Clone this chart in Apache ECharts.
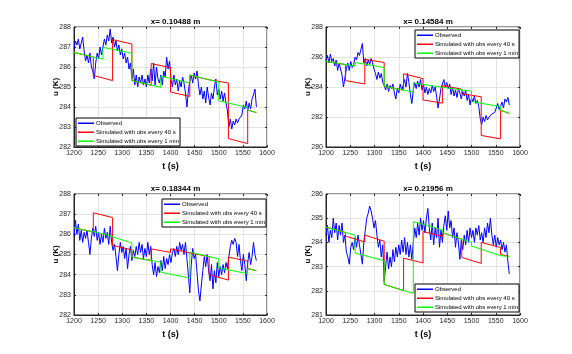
<!DOCTYPE html>
<html>
<head>
    <meta charset="utf-8" />
    <title>u_vs_t</title>
    <script src="https://cdn.jsdelivr.net/npm/echarts@6/dist/echarts.min.js"></script>
    <style>
        html, body { margin: 0; padding: 0; background: #fff; }
        #container { width: 572px; height: 354px; }
    </style>
</head>
<body>
    <div id="container"></div>
</body>
</html>
<script>
    // observed u every 3 s from t = 1200 s
    var obsStart = 1200, obsStep = 3;
    var obs1 = [286.9, 287.3, 287.1, 287.4, 286.9, 287.2, 287.5, 286.8, 286.3, 286.6, 286.2, 286.7, 286.0, 285.8, 285.4, 286.2, 286.7, 286.4, 287.0, 286.6,
        287.0, 287.4, 287.1, 287.6, 287.3, 287.9, 287.2, 287.5, 287.0, 287.3, 286.8, 287.1, 286.6, 286.9, 286.4, 286.7, 286.2, 286.5, 285.9, 286.2,
        285.4, 285.9, 285.1, 285.6, 285.0, 285.5, 285.2, 285.6, 285.1, 285.4, 285.0, 285.6, 285.2, 285.9, 285.3, 286.2, 285.1, 286.0, 285.4, 285.2,
        285.6, 285.1, 285.8, 285.5, 286.5, 285.9, 286.3, 285.4, 285.0, 285.6, 285.1, 285.4, 284.8, 285.3, 285.0, 285.5, 285.2, 284.7, 284.0, 284.8,
        285.3, 285.6, 285.2, 285.7, 285.4, 285.8, 285.1, 284.6, 285.0, 284.4, 284.8, 284.2, 285.0, 284.5, 284.1, 284.7, 284.4, 285.0, 285.4, 284.6,
        284.9, 284.4, 284.8, 284.3, 284.7, 284.2, 283.8, 283.0, 283.4, 282.9, 283.3, 283.1, 283.4, 283.2, 283.4, 283.3, 283.6, 284.1, 283.9, 284.3,
        283.8, 284.2, 283.9, 284.4, 284.6, 284.9, 284.0];
    var obs2 = [285.8, 286.1, 285.6, 286.2, 285.7, 285.9, 285.4, 285.8, 285.1, 285.6, 285.5, 284.8, 284.0, 284.6, 285.2, 285.6, 285.1, 285.7, 285.3, 285.5,
        286.0, 285.8, 286.3, 286.1, 286.5, 286.9, 285.6, 285.9, 285.4, 285.8, 285.5, 285.9, 285.6, 285.2, 284.9, 284.5, 285.0, 284.6, 284.9, 284.3,
        284.1, 283.8, 284.2, 283.7, 284.1, 283.9, 284.2, 283.6, 283.2, 283.9, 283.6, 284.2, 283.8, 284.1, 284.5, 284.0, 284.9, 284.3, 283.5, 282.9,
        283.8, 284.3, 283.9, 284.4, 284.0, 284.5, 283.8, 284.2, 283.6, 284.0, 283.5, 283.9, 283.6, 284.1, 283.7, 284.0, 283.4, 282.6, 283.2, 283.9,
        284.2, 284.5, 284.0, 284.3, 283.9, 284.2, 283.5, 284.0, 283.4, 283.8, 283.3, 283.9, 283.6, 283.2, 283.7, 283.4, 283.8, 283.1, 283.5, 282.8,
        283.3, 283.0, 283.4, 282.9, 283.1, 282.7, 281.9, 281.5, 282.0, 281.7, 282.1, 281.8, 282.0, 281.9, 282.2, 282.1, 282.3, 282.6, 282.9, 282.5,
        282.7, 283.0, 282.6, 283.2, 283.0, 283.3, 282.8];
    var obs3 = [285.9, 286.7, 286.0, 286.5, 285.7, 286.2, 285.6, 286.1, 285.8, 286.2, 285.6, 285.0, 285.8, 286.3, 285.9, 286.4, 285.7, 286.1, 285.5, 286.0,
        285.6, 286.3, 285.8, 286.1, 285.5, 286.4, 285.6, 285.2, 285.5, 284.9, 284.2, 285.0, 285.6, 285.1, 285.4, 284.8, 285.3, 284.3, 285.0, 285.4,
        284.7, 285.2, 284.9, 285.4, 285.0, 285.6, 285.1, 285.5, 284.8, 285.3, 284.9, 285.6, 285.0, 285.4, 284.5, 284.0, 284.6, 283.9, 284.4, 284.1,
        284.7, 284.2, 284.9, 284.3, 284.8, 284.5, 285.0, 284.6, 285.1, 285.3, 284.9, 285.4, 285.0, 285.6, 285.2, 285.5, 285.0, 285.6, 284.8, 284.0,
        283.1, 284.5, 285.3, 284.8, 285.0, 284.1, 283.2, 282.7, 283.5, 284.2, 284.9, 284.4, 285.0, 284.2, 283.7, 284.5, 283.3, 284.2, 283.6, 284.6,
        283.9, 284.4, 284.0, 284.5, 284.1, 284.6, 284.3, 284.9, 285.4, 285.7, 285.5, 285.8, 285.6, 284.9, 285.5, 284.7, 284.2, 285.0, 284.5, 283.7,
        284.6, 285.1, 284.5, 284.9, 285.6, 285.0, 284.7];
    var obs4 = [284.3, 284.7, 284.0, 284.5, 284.2, 285.0, 284.4, 284.8, 284.1, 284.7, 284.3, 284.8, 284.0, 284.3, 283.6, 283.4, 283.1, 283.8, 284.0, 283.7,
        284.2, 283.8, 284.3, 283.9, 283.5, 283.1, 284.0, 284.5, 285.0, 285.2, 285.5, 285.3, 285.0, 284.6, 284.9, 284.3, 283.8, 284.1, 283.4, 283.9,
        282.4, 283.0, 283.6, 282.9, 283.4, 283.0, 283.7, 283.2, 283.8, 283.4, 283.9, 283.5, 284.1, 283.6, 284.2, 283.5, 284.0, 283.4, 283.9, 283.3,
        284.0, 284.6, 284.2, 284.8, 284.3, 285.0, 284.5, 284.9, 284.4, 285.0, 285.4, 284.6, 284.1, 284.8, 283.9, 284.6, 284.2, 285.0, 283.8, 284.5,
        284.0, 284.7, 285.1, 284.5, 285.3, 284.6, 284.9, 284.2, 284.6, 283.8, 284.4, 284.0, 283.3, 284.1, 283.7, 284.3, 283.9, 284.5, 284.0, 284.6,
        284.2, 284.5, 284.0, 284.6, 284.3, 284.7, 284.1, 284.4, 284.0, 284.6, 284.2, 284.8, 284.4, 285.0, 284.3, 283.9, 284.3, 283.8, 284.2, 283.9,
        284.1, 283.7, 284.0, 283.6, 283.9, 283.2, 282.7];

    // simulated, obs every 40 s  [t, u]
    var red1 = [[1200, 286.73], [1240, 286.5], [1240, 285.58], [1280, 285.32], [1280, 287.37], [1320, 287.15], [1320, 285.32], [1360, 285.09], [1360, 286.17], [1400, 285.97],
        [1400, 284.75], [1440, 284.53], [1440, 285.6], [1480, 285.36], [1480, 285.45], [1520, 285.2], [1520, 282.42], [1560, 282.17], [1560, 283.85], [1578, 283.72]];
    var red2 = [[1200, 285.7], [1240, 285.5], [1240, 284.43], [1280, 284.2], [1280, 285.85], [1320, 285.63], [1320, 284.05], [1360, 283.79], [1360, 284.88], [1400, 284.56],
        [1400, 283.14], [1440, 282.92], [1440, 284.1], [1480, 283.85], [1480, 283.55], [1520, 283.35], [1520, 280.77], [1560, 280.54], [1560, 282.45], [1578, 282.24]];
    var red3 = [[1200, 286.32], [1240, 286.12], [1240, 287.07], [1280, 286.83], [1280, 285.45], [1320, 285.23], [1320, 284.87], [1360, 284.7], [1360, 285.28], [1400, 285.1],
        [1400, 285.28], [1440, 285.08], [1440, 285.12], [1480, 284.9], [1480, 284.0], [1520, 283.73], [1520, 284.87], [1560, 284.67], [1560, 284.3], [1578, 284.2]];
    var red4 = [[1200, 284.63], [1240, 284.41], [1240, 284.26], [1280, 284.02], [1280, 284.3], [1320, 284.05], [1320, 282.26], [1360, 282.01], [1360, 283.35], [1400, 283.15],
        [1400, 284.45], [1440, 284.25], [1440, 284.4], [1480, 284.13], [1480, 283.38], [1520, 283.13], [1520, 284.0], [1560, 283.79], [1560, 283.5], [1578, 283.42]];

    // simulated, obs every 1 min  [t, u]
    var green1 = [[1200, 286.73], [1260, 286.39], [1260, 286.98], [1320, 286.69], [1320, 285.32], [1380, 284.98], [1380, 285.54], [1440, 285.2], [1440, 285.6], [1500, 285.24],
        [1500, 284.31], [1560, 283.97], [1560, 283.85], [1578, 283.72]];
    var green2 = [[1200, 285.7], [1260, 285.4], [1260, 285.63], [1320, 285.3], [1320, 284.05], [1380, 283.66], [1380, 284.27], [1440, 283.98], [1440, 284.1], [1500, 283.72],
        [1500, 283.03], [1560, 282.69], [1560, 282.45], [1578, 282.24]];
    var green3 = [[1200, 286.32], [1260, 286.03], [1260, 285.95], [1320, 285.57], [1320, 284.87], [1380, 284.62], [1380, 284.12], [1440, 283.83], [1440, 285.12], [1500, 284.78],
        [1500, 284.33], [1560, 284.05], [1560, 284.3], [1578, 284.2]];
    var green4 = [[1200, 284.63], [1260, 284.3], [1260, 283.56], [1320, 283.24], [1320, 282.26], [1380, 281.89], [1380, 284.86], [1440, 284.52], [1440, 284.4], [1500, 284.0],
        [1500, 283.85], [1560, 283.45], [1560, 283.5], [1578, 283.42]];

    var titles = ["x= 0.10488 m", "x= 0.14584 m", "x= 0.18344 m", "x= 0.21956 m"];
    var yMin = [282, 280, 282, 281];
    var yMax = [288, 288, 288, 286];
    var yStep = [1, 2, 1, 1];
    var names = ["Observed", "Simulated with obs every 40 s", "Simulated with obs every 1 min"];
    var colors = ["#0000ff", "#ff0000", "#00ff00"];

    var obsAll = [obs1, obs2, obs3, obs4];
    var redAll = [red1, red2, red3, red4];
    var greenAll = [green1, green2, green3, green4];

    var FONT = "Liberation Sans";
    var boxes = [
        { left: 74, top: 27, width: 193, height: 120 },
        { left: 326, top: 27, width: 194, height: 120 },
        { left: 74, top: 194, width: 193, height: 121 },
        { left: 326, top: 194, width: 194, height: 121 }
    ];
    var legendPos = [
        { left: 76, top: 118 },
        { left: 415, top: 30 },
        { left: 162, top: 199 },
        { left: 415, top: 284 }
    ];

    var option = {
        animation: false,
        backgroundColor: "#fff",
        title: [], grid: [], xAxis: [], yAxis: [], legend: [], series: []
    };

    var tickStyle = { show: true, inside: true, length: 2, lineStyle: { color: "#262626" } };

    for (var k = 0; k < 4; k++) {
        var b = boxes[k];
        option.grid.push({ left: b.left, top: b.top, width: b.width, height: b.height, show: true, borderColor: "#262626", borderWidth: 1, backgroundColor: "#fff" });
        option.title.push({
            text: titles[k], left: b.left + b.width / 2, top: b.top - 14, textAlign: "center",
            textStyle: { fontFamily: FONT, fontSize: 8, fontWeight: "bold", color: "#000" }
        });
        // bottom / left axes with labels
        option.xAxis.push({
            type: "value", gridIndex: k, min: 1200, max: 1600, interval: 50,
            name: "t (s)", nameLocation: "middle", nameGap: 15, nameMoveOverlap: false,
            nameTextStyle: { fontFamily: FONT, fontSize: 9, fontWeight: "bold", color: "#000" },
            axisLine: { show: true, onZero: false, lineStyle: { color: "#262626", width: 1 } },
            axisTick: tickStyle,
            axisLabel: { fontFamily: FONT, fontSize: 7, color: "#262626", margin: 3, formatter: function (v) { return String(v); } },
            splitLine: { show: true, lineStyle: { color: "#e3e3e3", width: 1 } }
        });
        option.yAxis.push({
            type: "value", gridIndex: k, min: yMin[k], max: yMax[k], interval: yStep[k],
            name: "u (K)", nameLocation: "middle", nameGap: 14, nameMoveOverlap: false,
            nameTextStyle: { fontFamily: FONT, fontSize: 8, fontWeight: "bold", color: "#000" },
            axisLine: { show: true, onZero: false, lineStyle: { color: "#262626", width: 1 } },
            axisTick: tickStyle,
            axisLabel: { fontFamily: FONT, fontSize: 7, color: "#262626", margin: 3, formatter: function (v) { return String(v); } },
            splitLine: { show: true, lineStyle: { color: "#e3e3e3", width: 1 } }
        });
        // mirrored ticks on top / right
        option.xAxis.push({
            type: "value", gridIndex: k, position: "top", min: 1200, max: 1600, interval: 50,
            axisLine: { show: false }, axisLabel: { show: false }, splitLine: { show: false }, axisTick: tickStyle
        });
        option.yAxis.push({
            type: "value", gridIndex: k, position: "right", min: yMin[k], max: yMax[k], interval: yStep[k],
            axisLine: { show: false }, axisLabel: { show: false }, splitLine: { show: false }, axisTick: tickStyle
        });

        option.legend.push({
            left: legendPos[k].left, top: legendPos[k].top, orient: "vertical",
            data: names.map(function (n, j) { return { name: n, icon: "rect", itemStyle: { color: colors[j] } }; }),
            itemWidth: 16, itemHeight: 1.5, itemGap: 1.5, padding: [1.5, 1, 1, 2],
            backgroundColor: "#fff", borderColor: "#000", borderWidth: 1,
            textStyle: { fontFamily: FONT, fontSize: 6, color: "#000", lineHeight: 7.5, padding: [0, 0, 0, -3] },
            selectedMode: false
        });

        var obsData = obsAll[k].map(function (v, i) { return [obsStart + obsStep * i, v]; });
        var sets = [obsData, redAll[k], greenAll[k]];
        for (var j = 0; j < 3; j++) {
            option.series.push({
                name: names[j], type: "line", xAxisIndex: 2 * k, yAxisIndex: 2 * k, data: sets[j],
                symbol: "none", lineStyle: { color: colors[j], width: 1 }, itemStyle: { color: colors[j] }
            });
        }
    }

    var myChart = echarts.init(document.getElementById("container"), null, { renderer: "canvas" });
    myChart.setOption(option);
</script>
